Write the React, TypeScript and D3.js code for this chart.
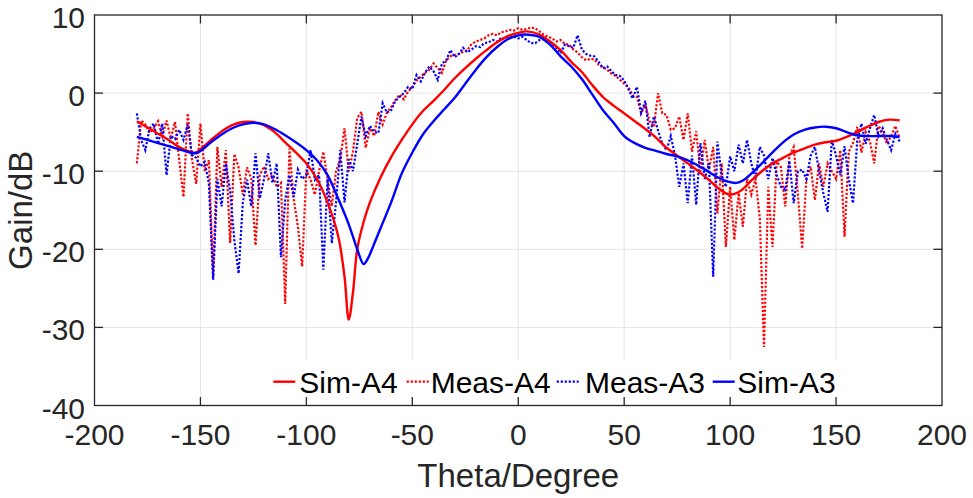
import React from "react";
import * as d3 from "d3";

// ---------- data ----------
const measTheta: number[] = d3.range(-180, 181, 2);

const measA4: number[] = [
  -9, -3.5, -4.0, -5.1, -4.5, -3.6, -5.5, -3.5, -5.8, -3.7,
  -8.6, -13.3, -2.6, -8.5, -11.6, -3.9, -10, -8.6, -23.5, -6.9,
  -12, -7.3, -19.2, -7.8, -9.5, -13, -9.5, -11, -19.5, -10.5,
  -9.4, -11, -10.5, -12, -11.5, -27, -7.1, -13.5, -17.1, -22.2,
  -9.8, -11.1, -13, -10, -7.5, -11, -14.5, -10, -8.5, -4.5,
  -10, -7.5, -3.2, -2.4, -7, -4.5, -5.5, -2.4, -4, -2.5,
  -1.8, -0.9, -0.2, -0.8, 0.2, 0.8, 1.6, 2.1, 2.6, 3.0,
  3.8, 3.2, 2.6, 4.2, 4.7, 4.9, 5.0, 5.3, 5.5, 6.3,
  6.6, 6.8, 7.0, 7.4, 7.6, 7.4, 7.8, 7.9, 8.1, 8.0,
  8.3, 8.1, 8.2, 8.4, 8.3, 7.9, 7.5, 7.2, 7.0, 6.6,
  6.8, 6.3, 6.2, 5.6, 5.2, 4.6, 4.2, 4.4, 4.3, 3.6,
  3.3, 3.0, 2.5, 2.2, 1.7, 1.2, 0.8, -0.3, -0.5, -2.6,
  -1.5, -3.6, -4.3, 0, -2.6, -2.8, -4.7, -4.5, -3.0, -6,
  -2.6, -7.5, -4.9, -10, -6, -9.8, -6.9, -15.4, -9, -19.7,
  -12, -18.8, -12.8, -17.1, -11, -13, -11, -16, -32.5, -12,
  -19.7, -8.8, -9.5, -14.5, -8, -6.9, -13, -19.9, -11, -9.4,
  -13.7, -9, -12, -9, -10, -11, -7.3, -18.4, -7.5, -6.4,
  -4.3, -7.6, -5, -6.2, -9, -4.2, -5, -6.5, -5.5, -4.2,
  -5.8,
];

const measA3: number[] = [
  -2.6, -6, -7.3, -4.5, -3.9, -6.5, -3.9, -10.5, -5.5, -5.9,
  -4.7, -6, -4, -7.9, -8.3, -9.4, -8.8, -11.6, -23.9, -11,
  -14.5, -9, -12.5, -18.8, -23.1, -14, -11.1, -14.5, -7.7, -13.5,
  -11, -7.7, -11.5, -9, -21, -13.7, -10.5, -13.3, -9.8, -11,
  -10.5, -7.3, -11.1, -10.5, -22.6, -11, -19.2, -14, -7.3, -14,
  -8.5, -10, -6.5, -3, -5.5, -4.2, -5, -5.1, -1.3, -2.5,
  -2.2, -1.0, -0.5, 0, 0.8, 0.5, 2.3, 1.5, 2.6, 3.4,
  2.8, 1.7, 3.8, 4.2, 5.5, 4.6, 5.0, 5.8, 5.2, 5.6,
  6.0, 5.9, 6.4, 6.5, 6.8, 6.6, 7.1, 7.0, 7.3, 7.2,
  7.0, 7.2, 6.8, 6.4, 6.4, 6.8, 6.9, 6.5, 6.2, 5.8,
  5.1, 6.2, 6.0, 5.8, 7.4, 5.6, 5.0, 4.8, 4.7, 4.0,
  3.2, 3.4, 2.8, 2.3, 2.2, 1.6, 0.5, -0.7, 0.8, -2.5,
  -1.0, -5.6, -3.0, -4.8, -6.5, -7.3, -5.5, -8, -12, -9,
  -14.1, -8, -14.3, -6.4, -11, -9, -23.5, -6.2, -10.5, -12,
  -8.1, -10, -6.6, -9, -6.0, -9, -11, -6.9, -8, -11,
  -8.3, -10.5, -12, -12.4, -8.7, -14.1, -10, -9.8, -11, -8,
  -6.9, -10, -12.8, -15.2, -6, -8, -10.5, -6.8, -11, -14.1,
  -6, -3.9, -6.5, -4.5, -2.8, -5.5, -4.5, -6, -7.3, -5.2,
  -6.2,
];

const simA4Theta: number[] = [
  -180, -175, -170, -165, -160, -155, -152, -150, -145, -140, -135, -130, -127,
  -125, -120, -115, -110, -105, -100, -95, -90, -85, -82, -80, -78, -76, -73,
  -70, -65, -60, -55, -50, -45, -40, -35, -30, -25, -20, -15, -10, -5, 0, 4,
  10, 15, 20, 25, 30, 35, 40, 45, 50, 55, 60, 65, 70, 75, 80, 85, 90, 95, 100,
  105, 110, 115, 120, 125, 130, 135, 140, 145, 150, 155, 160, 165, 170, 175, 180,
];
const simA4: number[] = [
  -3.6, -4.4, -5.2, -6.0, -6.9, -7.5, -7.6, -7.2, -6.0, -4.9, -4.1, -3.7, -3.65,
  -3.7, -4.1, -5.0, -6.3, -7.6, -9.0, -11.0, -14, -18.3, -23.5, -29, -25.5, -20, -16.5,
  -14, -10.8, -8.2, -6.0, -4.0, -2.3, -1.0, 0.4, 1.9, 3.2, 4.4, 5.5, 6.5, 7.3, 7.7, 7.9,
  7.5, 6.6, 5.5, 4.0, 2.7, 1.0, -0.5, -1.6, -2.6, -3.6, -4.6, -5.7, -7.0, -8.0, -9.0, -10, -11.1, -12.3, -13.0,
  -12.5, -11.2, -10.0, -9.0, -8.3, -7.6, -7.1, -6.6, -6.3, -6.1, -5.6, -5.0, -4.3, -3.7, -3.4, -3.5,
];

const simA3Theta: number[] = [
  -180, -175, -170, -165, -160, -155, -152, -150, -145, -140, -135, -130, -125,
  -120, -115, -110, -105, -100, -95, -90, -85, -80, -76, -73, -71, -68, -65,
  -60, -55, -50, -45, -40, -35, -30, -25, -20, -15, -10, -5, 0, 3,
  10, 15, 20, 25, 30, 35, 40, 45, 50, 55, 60, 65, 70, 75, 80, 85, 90, 95, 100, 103,
  106, 110, 115, 120, 125, 130, 135, 140, 145, 150, 155, 160, 165, 170, 175, 180,
];
const simA3: number[] = [
  -5.6, -6.0, -6.4, -6.8, -7.2, -7.6, -7.7, -7.4, -6.3, -5.3, -4.5, -4.0, -3.8,
  -4.0, -4.6, -5.4, -6.3, -7.3, -8.6, -10.5, -13.5, -16.8, -20, -21.9, -21.2, -19.3, -17.3,
  -14, -10.3, -7.6, -5.3, -3.6, -2.1, -0.6, 1.2, 3.0, 4.6, 5.9, 6.9, 7.4, 7.5,
  7.2, 6.2, 4.7, 3.4, 1.8, -0.2, -2.2, -3.8, -5.5, -6.4, -7.0, -7.4, -7.8, -8.1, -8.6, -9.3, -10.1, -10.9, -11.4, -11.5,
  -11.2, -10.3, -9.0, -7.6, -6.3, -5.3, -4.7, -4.4, -4.3, -4.5, -5.0, -5.4, -5.5, -5.5, -5.5, -5.6,
];

const xTicks: number[] = [-200, -150, -100, -50, 0, 50, 100, 150, 200];
const yTicks: number[] = [10, 0, -10, -20, -30, -40];
const legendLabels: string[] = ["Sim-A4", "Meas-A4", "Meas-A3", "Sim-A3"];

// ---------- layout ----------
const W = 973;
const H = 498;
const L = 94.5;
const R = 942;
const T = 15;
const B = 405.5;
const FONT = "'Liberation Sans', Arial, Helvetica, sans-serif";
const RED = "#ff0000";
const BLUE = "#0000ff";
const AX = "#262626";
const DOT = "2.2 1.8";

export default function App() {
  const x = d3.scaleLinear().domain([-200, 200]).range([L, R]);
  const y = d3.scaleLinear().domain([-40, 10]).range([B, T]);

  const pts = (th: number[], v: number[]) => th.map((t, i) => [t, v[i]] as [number, number]);

  const lineLin = d3
    .line<[number, number]>()
    .x((d) => x(d[0]))
    .y((d) => y(d[1]));
  const lineSmooth = d3
    .line<[number, number]>()
    .x((d) => x(d[0]))
    .y((d) => y(d[1]))
    .curve(d3.curveCatmullRom.alpha(0.5));

  const tickLen = 8.5;

  const legendItems = [
    { label: legendLabels[0], color: RED, dash: undefined as string | undefined, lx: 273.3, tx: 299.3 },
    { label: legendLabels[1], color: RED, dash: DOT, lx: 406.7, tx: 430.7 },
    { label: legendLabels[2], color: BLUE, dash: DOT, lx: 556.7, tx: 585 },
    { label: legendLabels[3], color: BLUE, dash: undefined, lx: 712.7, tx: 737.3 },
  ];

  return (
    <svg
      width={W}
      height={H}
      style={{ position: "absolute", left: 0, top: 0, background: "#fff" }}
      fontFamily={FONT}
    >
      <rect x={0} y={0} width={W} height={H} fill="#fff" />
      {/* grid */}
      <g stroke="#e6e6e6" strokeWidth={1}>
        {xTicks.slice(1, -1).map((t) => (
          <line key={"gx" + t} x1={x(t)} x2={x(t)} y1={T} y2={B} />
        ))}
        {yTicks.slice(1, -1).map((t) => (
          <line key={"gy" + t} x1={L} x2={R} y1={y(t)} y2={y(t)} />
        ))}
      </g>

      {/* measured (dotted) */}
      <path
        d={lineLin(pts(measTheta, measA4)) || ""}
        fill="none"
        stroke={RED}
        strokeWidth={2.2}
        strokeDasharray={DOT}
      />
      <path
        d={lineLin(pts(measTheta, measA3)) || ""}
        fill="none"
        stroke={BLUE}
        strokeWidth={2.2}
        strokeDasharray={DOT}
      />
      {/* simulated (solid) */}
      <path d={lineSmooth(pts(simA4Theta, simA4)) || ""} fill="none" stroke={RED} strokeWidth={2.4} />
      <path d={lineSmooth(pts(simA3Theta, simA3)) || ""} fill="none" stroke={BLUE} strokeWidth={2.4} />

      {/* legend */}
      <rect x={268} y={360} width={572} height={B - 360} fill="#fff" />
      {legendItems.map((it) => (
        <g key={it.label}>
          <line
            x1={it.lx}
            x2={it.lx + 22}
            y1={381.7}
            y2={381.7}
            stroke={it.color}
            strokeWidth={it.dash ? 2.2 : 2.4}
            strokeDasharray={it.dash}
          />
          <text x={it.tx} y={393.3} fontSize={30} fill="#000">
            {it.label}
          </text>
        </g>
      ))}

      {/* axes box */}
      <rect x={L} y={T} width={R - L} height={B - T} fill="none" stroke={AX} strokeWidth={1.3} />
      <g stroke={AX} strokeWidth={1.3}>
        {xTicks.slice(1, -1).map((t) => (
          <g key={"tx" + t}>
            <line x1={x(t)} x2={x(t)} y1={B} y2={B - tickLen} />
            <line x1={x(t)} x2={x(t)} y1={T} y2={T + tickLen} />
          </g>
        ))}
        {yTicks.slice(1, -1).map((t) => (
          <g key={"ty" + t}>
            <line x1={L} x2={L + tickLen} y1={y(t)} y2={y(t)} />
            <line x1={R} x2={R - tickLen} y1={y(t)} y2={y(t)} />
          </g>
        ))}
      </g>

      {/* tick labels */}
      <g fontSize={30} fill={AX}>
        {xTicks.map((t) => (
          <text key={"lx" + t} x={x(t)} y={445} textAnchor="middle">
            {t}
          </text>
        ))}
        {yTicks.map((t) => (
          <text key={"ly" + t} x={85} y={y(t) + 13} textAnchor="end">
            {t}
          </text>
        ))}
      </g>

      {/* axis labels */}
      <text x={(L + R) / 2} y={486.7} fontSize={33} fill={AX} textAnchor="middle">
        Theta/Degree
      </text>
      <text
        transform={`translate(32, ${(T + B) / 2}) rotate(-90)`}
        fontSize={33}
        fill={AX}
        textAnchor="middle"
      >
        Gain/dB
      </text>
    </svg>
  );
}
